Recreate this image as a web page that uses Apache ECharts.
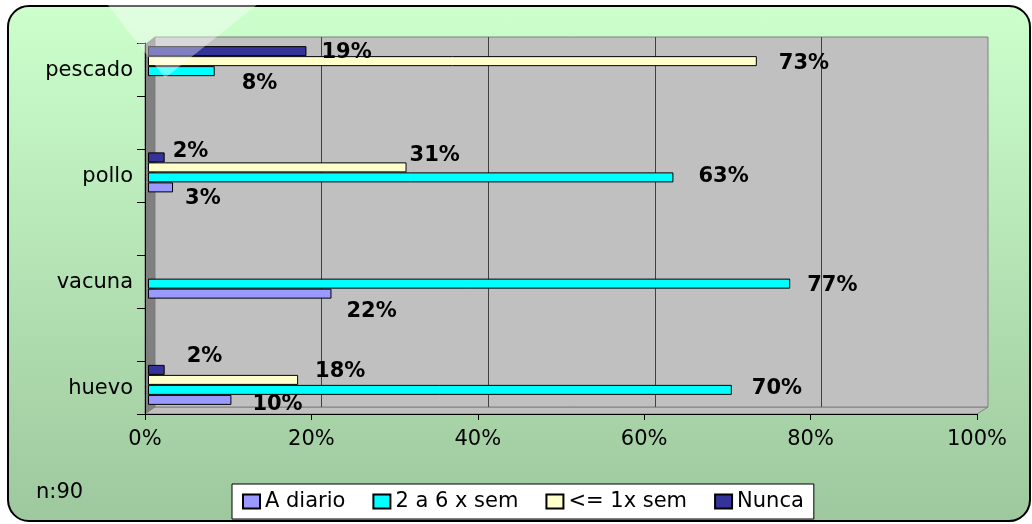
<!DOCTYPE html>
<html>
<head>
<meta charset="utf-8">
<script src="https://cdn.jsdelivr.net/npm/echarts@6/dist/echarts.min.js"></script>
<style>
html,body{margin:0;padding:0;background:#fff;}
#wrap{position:relative;width:1032px;height:524px;overflow:hidden;}
#bg{position:absolute;left:7px;top:5px;width:1024px;height:517px;border:2px solid #000;border-radius:22px;background:linear-gradient(#CCFFCC,#9EC89E);box-sizing:border-box;}
#chart{position:absolute;left:0;top:0;width:1032px;height:524px;}
</style>
</head>
<body>
<div id="wrap"><div id="bg"></div><div id="chart"></div></div>
<script>
// ---- data ----
const categories = ['huevo', 'vacuna', 'pollo', 'pescado'];
const seriesNames = ['A diario', '2 a 6 x sem', '<= 1x sem', 'Nunca'];
const aDiario  = [10, 22, 3, null];
const dosASeis = [70, 77, 63, 8];
const unaVez   = [18, null, 31, 73];
const nunca    = [2, null, 2, 19];
const xTickMin = 0, xTickMax = 100, xTickStep = 20;
const frameSlots = ['', '', '', '', '', '', ''];
const noteText = 'n:90';

// ---- styling ----
const colors = ['#9999FF', '#00FFFF', '#FFFFCC', '#333399'];
const labelOffsets = [
  [[16, 5], [10, 18], [7, 11], null],
  [[15, -1], [12, 2], [20, -1], [22, 12]],
  [[12, -8], null, [-2, -12], [17, 2]],
  [[17, -13], null, [3, -6], [10, 1]]
];
const allValues = [aDiario, dosASeis, unaVez, nunca];
const FONT = 'DejaVu Sans';
const FS = 21;

// ECharts places horizontal bars top-down in series order, so add them reversed
const series = [3, 2, 1, 0].map(s => ({
  name: seriesNames[s],
  type: 'bar',
  xAxisIndex: 2,
  yAxisIndex: 2,
  barWidth: 10,
  barGap: '0%',
  itemStyle: { color: colors[s], borderColor: '#000', borderWidth: 1 },
  label: {
    show: true, position: 'right', distance: 5,
    formatter: '{c}%', fontFamily: FONT, fontWeight: 'bold', fontSize: FS, color: '#000'
  },
  data: allValues[s].map((v, i) => {
    const off = labelOffsets[s][i];
    return off ? { value: v, label: { offset: off } } : { value: v };
  })
}));

const chart = echarts.init(document.getElementById('chart'), null, { renderer: 'canvas' });
chart.setOption({
  animation: false,
  textStyle: { fontFamily: FONT },
  title: {
    text: noteText, left: 31, top: 477,
    textStyle: { fontFamily: FONT, fontSize: FS, fontWeight: 'normal', color: '#000' }
  },
  legend: {
    data: seriesNames,
    left: 232, top: 484,
    icon: 'rect', itemWidth: 17, itemHeight: 14, itemGap: 27, itemTextGap: 9,
    backgroundColor: '#fff', borderColor: '#000', borderWidth: 1, borderRadius: 0,
    padding: [7, 10],
    textStyle: { fontFamily: FONT, fontSize: FS, color: '#000' }
  },
  grid: [
    { left: 155, right: 44, top: 37, bottom: 117, show: true, backgroundColor: '#C0C0C0', borderColor: '#808080', borderWidth: 1 },
    { left: 145, right: 55, top: 43, bottom: 110 },
    { left: 148, right: 50, top: 13, bottom: 86 },
    { left: 148, right: 50, top: 17, bottom: 82 }
  ],
  xAxis: [
    { gridIndex: 0, type: 'value', min: xTickMin, max: xTickMax, interval: xTickStep,
      axisLabel: { show: false }, axisLine: { show: false }, axisTick: { show: false },
      splitLine: { show: true, showMinLine: false, showMaxLine: false, lineStyle: { color: '#404040', width: 1 } } },
    { gridIndex: 1, type: 'value', min: xTickMin, max: xTickMax, interval: xTickStep,
      axisLabel: { formatter: '{value}%', fontFamily: FONT, fontSize: FS, color: '#000', margin: 15 },
      axisLine: { show: true, lineStyle: { color: '#000', width: 1 } },
      axisTick: { show: true, length: 6, lineStyle: { color: '#000' } },
      splitLine: { show: false } },
    { gridIndex: 2, type: 'value', min: xTickMin, max: xTickMax, show: false },
    { gridIndex: 3, type: 'value', min: xTickMin, max: xTickMax, show: false }
  ],
  yAxis: [
    { gridIndex: 0, type: 'value', show: false },
    { gridIndex: 1, type: 'category', data: frameSlots,
      axisLine: { show: true, lineStyle: { color: '#000', width: 1 } },
      axisTick: { show: true, length: 8, lineStyle: { color: '#000' } },
      axisLabel: { show: false }, splitLine: { show: false } },
    { gridIndex: 2, type: 'category', data: categories,
      axisLine: { show: false }, axisTick: { show: false }, axisLabel: { show: false } },
    { gridIndex: 3, type: 'category', data: categories,
      axisLine: { show: false }, axisTick: { show: false }, splitLine: { show: false },
      axisLabel: { fontFamily: FONT, fontSize: FS, color: '#000', margin: 15 } }
  ],
  graphic: [
    { type: 'polygon', z: -1, shape: { points: [[145, 45], [155, 37], [155, 407], [145, 414]] },
      style: { fill: '#808080', stroke: '#707070', lineWidth: 1 } },
    { type: 'polygon', z: -1, shape: { points: [[145, 414], [155, 407], [988, 407], [977, 414]] },
      style: { fill: '#C0C0C0', stroke: '#808080', lineWidth: 1 } },
    { type: 'polygon', z: 100, shape: { points: [[107, 4], [258, 4], [165, 78]] },
      style: { fill: 'rgba(255,255,255,0.38)' } }
  ],
  series: series
});
</script>
</body>
</html>
